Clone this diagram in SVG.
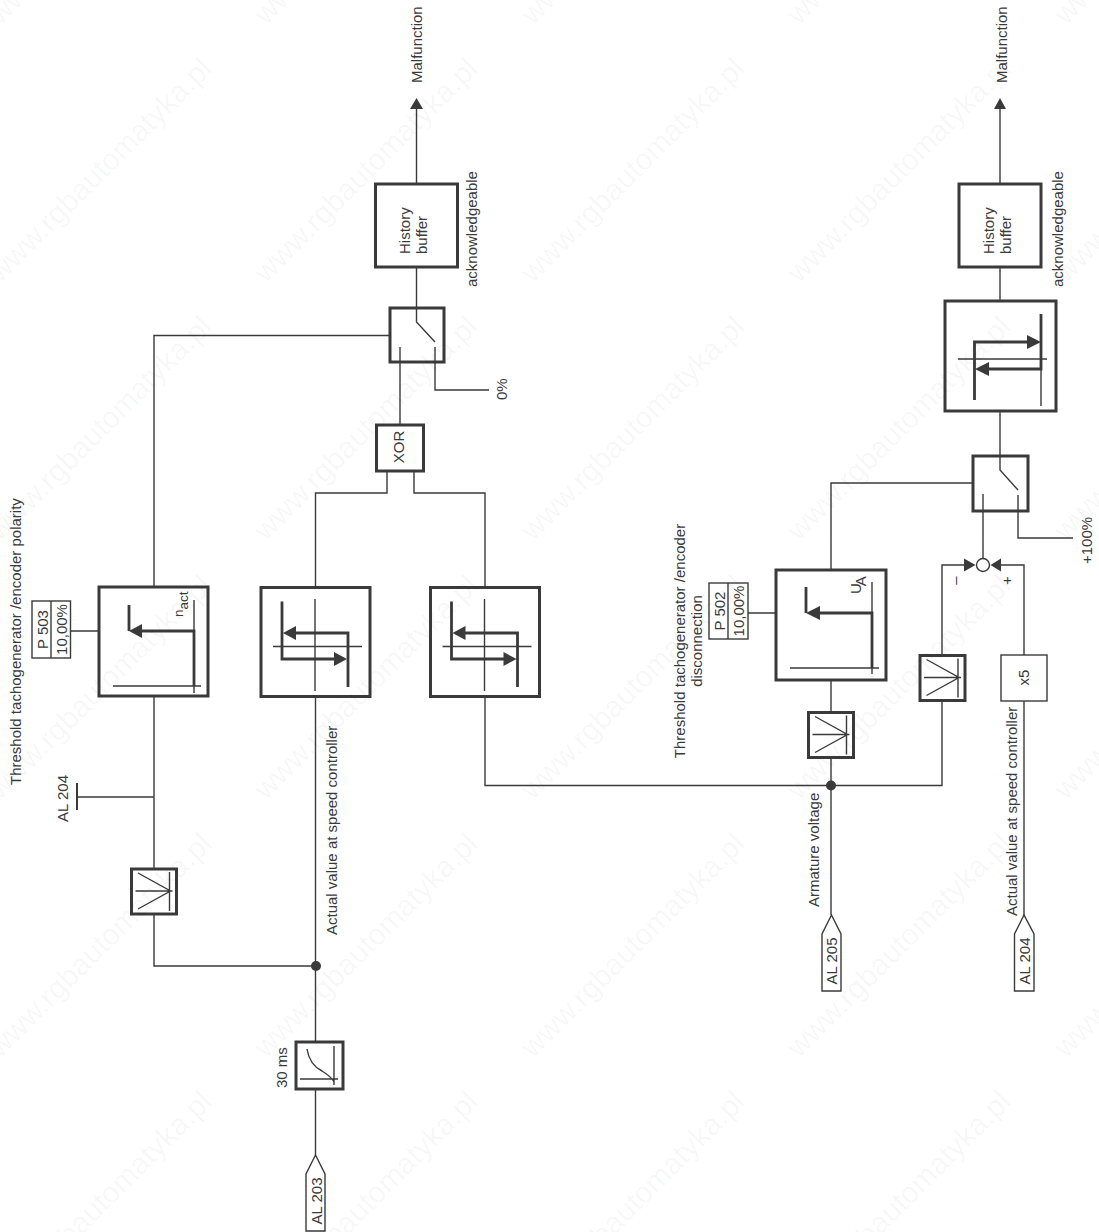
<svg xmlns="http://www.w3.org/2000/svg" width="1099" height="1232" viewBox="0 0 1099 1232">
<style>
text{font-family:"Liberation Sans",Arial,sans-serif;font-size:15px;fill:#3a3a3a}
.b{fill:#fff;stroke:#3a3a3a;stroke-width:3}
.w{fill:#fff;stroke:#3a3a3a;stroke-width:1.4}
.l{fill:none;stroke:#3a3a3a;stroke-width:1.4}
.k{fill:none;stroke:#3a3a3a;stroke-width:2.8}
.h{fill:#3a3a3a;stroke:none}
.m{text-anchor:middle}
.s{font-size:13.500px}
.wm{font-size:30px;fill:#000;fill-opacity:.04}
</style>
<defs>
<g id="adapter">
<rect class="b" x="-22" y="-22" width="45" height="45"/>
<path class="l" d="M-15.500 -18 L17 0 L-15.500 18 M-18 0 H19 M16 -19 V20"/>
</g>
<g id="hyst">
<rect class="b" x="-54" y="-54" width="109" height="109"/>
<path class="l" d="M-42 5 H47 M0 -42.500 V49.500"/>
<path class="k" d="M-33 -40 V17.500 H20 M-20 -8.500 H33 V45.500"/>
<path class="h" d="M-32 -8.500 L-19 -15.500 V-1.500 Z M32 17.500 L19 10.500 V24.500 Z"/>
</g>
<text id="wmt" class="wm" transform="rotate(-45)">www.rgbautomatyka.pl</text>
</defs>
<g id="connectors">
<path class="l" d="M315.500 1155V1089M315.500 1042V696M315.500 587V493H387V471M414 471V493H485V587M400 425V347M416.500 184V106M416.500 267V322L435 342M435 347V390H489M390 335.500H154V587M154 696V868M154 915V966H315.500M154 797H77M71 631H113"/>
<path class="l" d="M485 696V785.500H942V701M942 654V565H966M831 915V758M831 711V680M831 570V483H973M748 613H790M1024 915V701M1024 655V565H1000M983 558V494M1000 184V106M1000 267V301M1000 411V470L1018 490M1018 495V538H1073"/>
<path d="M77 783V810" fill="none" stroke="#3a3a3a" stroke-width="2"/>
<path class="h" d="M416.500 98L410 109H423Z M1000 98L994 109H1006Z"/>
<circle class="h" cx="316" cy="966" r="5"/>
<circle class="h" cx="831" cy="785.500" r="5"/>
</g>
<g id="threshold-polarity">
<rect class="b" x="99" y="587" width="109" height="109"/>
<path class="l" d="M113 686H201M194 600V693"/>
<path class="k" d="M129 605V631M142 631H194V686"/>
<path class="h" d="M129 631L142 624V638Z"/>
<text class="s" transform="translate(183 617) rotate(-90)">n<tspan dy="5">act</tspan></text>
</g>
<g id="p503">
<rect class="w" x="32" y="601" width="38.500" height="57"/>
<path class="l" d="M51 601V658"/>
<text class="m" transform="translate(48 629.500) rotate(-90)">P 503</text>
<text class="m" transform="translate(67 629.500) rotate(-90)">10,00%</text>
</g>
<use id="adapter-left" href="#adapter" x="153.500" y="891"/>
<use id="hyst-mid" href="#hyst" x="315" y="641.500"/>
<use id="hyst-right" href="#hyst" x="484.500" y="641.500"/>
<g id="filter">
<rect class="b" x="296" y="1042" width="47" height="47"/>
<path class="l" d="M334 1046V1085M300 1079H338M307 1049C309 1062 316 1068 322 1071C327 1074 332 1078 334 1082"/>
</g>
<g id="xor">
<rect class="b" x="376.500" y="425" width="47" height="46"/>
<text class="m" transform="translate(404 447) rotate(-90)">XOR</text>
</g>
<g id="switch1">
<rect class="b" x="390" y="308" width="54" height="54"/>
<path class="l" d="M416.500 308V322L435 342M435 347V362M400 347V362"/>
</g>
<g id="history1">
<rect class="b" x="375.500" y="184" width="82" height="83"/>
<text transform="translate(410 254) rotate(-90)">History</text>
<text transform="translate(427 254) rotate(-90)">buffer</text>
</g>
<g id="tag203">
<path class="w" d="M315.500 1155L306 1174V1231H325V1174Z"/>
<text class="m" transform="translate(321.500 1201) rotate(-90)">AL 203</text>
</g>
<g id="threshold-disconnection">
<rect class="b" x="776" y="570" width="110" height="110"/>
<path class="l" d="M790 668H879M872 582V674"/>
<path class="k" d="M806 587V613M819 613H872V668"/>
<path class="h" d="M806 613L820 606V620Z"/>
<text transform="translate(860.500 594) rotate(-90)">U<tspan dx="-3" dy="5">A</tspan></text>
</g>
<g id="p502">
<rect class="w" x="709" y="583" width="39" height="56"/>
<path class="l" d="M728 583V639"/>
<text class="m" transform="translate(725 611) rotate(-90)">P 502</text>
<text class="m" transform="translate(744 611) rotate(-90)">10,00%</text>
</g>
<use id="adapter-armature" href="#adapter" x="830.500" y="734.500"/>
<use id="adapter-sum" href="#adapter" x="942" y="677.500"/>
<g id="x5">
<rect class="w" x="1001" y="655" width="46" height="46"/>
<text class="m" transform="translate(1028.500 677.500) rotate(-90)">x5</text>
</g>
<g id="sum">
<circle class="w" cx="983" cy="565" r="6.500"/>
<path class="h" d="M975.500 565L964 558.500V571.500Z M990.500 565L1001 558.500V571.500Z"/>
<text class="m" transform="translate(960 580.500) rotate(-90)">–</text>
<text class="m" transform="translate(1012 580.500) rotate(-90)">+</text>
</g>
<g id="switch2">
<rect class="b" x="973" y="456" width="55" height="55"/>
<path class="l" d="M1000 456V470L1018 490M1018 495V511M983 494V511"/>
</g>
<g id="hyst2">
<rect class="b" x="945" y="301" width="111" height="110"/>
<path class="l" d="M958 359H1047M1041 314V406"/>
<path class="k" d="M974.500 400V342H1027M1041 314V369H988"/>
<path class="h" d="M1041 342L1027 335V349Z M975 369L989 362V376Z"/>
</g>
<g id="history2">
<rect class="b" x="959" y="184" width="82" height="83"/>
<text transform="translate(994 254) rotate(-90)">History</text>
<text transform="translate(1011 254) rotate(-90)">buffer</text>
</g>
<g id="tag205">
<path class="w" d="M831.500 915L822 934V991H841V934Z"/>
<text class="m" transform="translate(837 961) rotate(-90)">AL 205</text>
</g>
<g id="tag204">
<path class="w" d="M1024 915L1014.500 934V991H1034V934Z"/>
<text class="m" transform="translate(1030 961) rotate(-90)">AL 204</text>
</g>
<g id="labels">
<text transform="translate(21 785) rotate(-90)">Threshold tachogenerator /encoder polarity</text>
<text transform="translate(68 822) rotate(-90)">AL 204</text>
<text transform="translate(337 935) rotate(-90)">Actual value at speed controller</text>
<text transform="translate(287 1088) rotate(-90)">30 ms</text>
<text transform="translate(422 83) rotate(-90)">Malfunction</text>
<text transform="translate(477 287) rotate(-90)">acknowledgeable</text>
<text transform="translate(507 400) rotate(-90)">0%</text>
<text class="m" transform="translate(685 641) rotate(-90)"><tspan x="0" y="0">Threshold tachogenerator /encoder</tspan><tspan x="0" y="17">disconnection</tspan></text>
<text transform="translate(819 907) rotate(-90)">Armature voltage</text>
<text transform="translate(1017 916) rotate(-90)">Actual value at speed controller</text>
<text transform="translate(1007 83) rotate(-90)">Malfunction</text>
<text transform="translate(1063 287) rotate(-90)">acknowledgeable</text>
<text transform="translate(1092 564) rotate(-90)">+100%</text>
</g>
<g id="watermark">
<use href="#wmt" x="0" y="26"/><use href="#wmt" x="266" y="26"/><use href="#wmt" x="533" y="26"/><use href="#wmt" x="799" y="26"/><use href="#wmt" x="1066" y="26"/>
<use href="#wmt" x="0" y="284"/><use href="#wmt" x="266" y="284"/><use href="#wmt" x="533" y="284"/><use href="#wmt" x="799" y="284"/><use href="#wmt" x="1066" y="284"/>
<use href="#wmt" x="0" y="542"/><use href="#wmt" x="266" y="542"/><use href="#wmt" x="533" y="542"/><use href="#wmt" x="799" y="542"/><use href="#wmt" x="1066" y="542"/>
<use href="#wmt" x="0" y="801"/><use href="#wmt" x="266" y="801"/><use href="#wmt" x="533" y="801"/><use href="#wmt" x="799" y="801"/><use href="#wmt" x="1066" y="801"/>
<use href="#wmt" x="0" y="1059"/><use href="#wmt" x="266" y="1059"/><use href="#wmt" x="533" y="1059"/><use href="#wmt" x="799" y="1059"/><use href="#wmt" x="1066" y="1059"/>
<use href="#wmt" x="0" y="1317"/><use href="#wmt" x="266" y="1317"/><use href="#wmt" x="533" y="1317"/><use href="#wmt" x="799" y="1317"/><use href="#wmt" x="1066" y="1317"/>
</g>
</svg>
